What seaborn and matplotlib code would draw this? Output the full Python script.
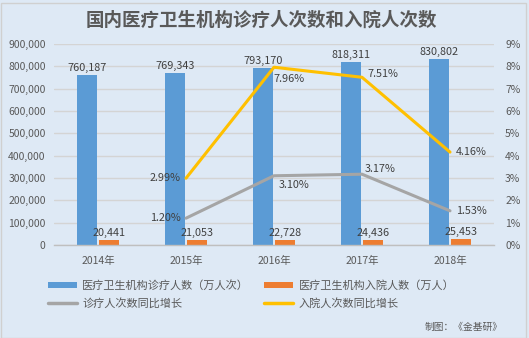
import numpy as np
import pandas as pd
import matplotlib
matplotlib.use("Agg")
import matplotlib.pyplot as plt
import seaborn as sns
from matplotlib.patches import Patch, Rectangle
from matplotlib.lines import Line2D
from matplotlib.ticker import FuncFormatter, MultipleLocator

years = ["2014年", "2015年", "2016年", "2017年", "2018年"]
visits = [760187, 769343, 793170, 818311, 830802]          # 万人次
admissions = [20441, 21053, 22728, 24436, 25453]           # 万人
visit_growth_years = ["2015年", "2016年", "2017年", "2018年"]
visit_growth = [1.20, 3.10, 3.17, 1.53]                   # %
admit_growth = [2.99, 7.96, 7.51, 4.16]                   # %

name_visits = "医疗卫生机构诊疗人数（万人次）"
name_admits = "医疗卫生机构入院人数（万人）"
name_vg = "诊疗人次数同比增长"
name_ag = "入院人次数同比增长"

BG = "#DEE9F5"
BLUE = "#5B9BD5"
ORANGE = "#ED7D31"
GRAY = "#A5A5A5"
YELLOW = "#FFC000"
TXT = "#595959"
LBL = "#404040"

sns.set_theme(style="white")
plt.rcParams["font.family"] = ["Noto Sans CJK SC", "DejaVu Sans"]

W, H = 529, 338
fig = plt.figure(figsize=(W / 100, H / 100), dpi=100, facecolor=BG)
fig.patches.append(Rectangle((0.5 / W, 0.5 / H), 1 - 3.5 / W, 1 - 3 / H,
                             transform=fig.transFigure, fill=False,
                             edgecolor="#D0D0D0", linewidth=1.0))

ax = fig.add_axes([54 / W, 1 - 245 / H, 440 / W, 201 / H])
ax.set_facecolor(BG)

bars = pd.DataFrame({
    "year": years * 2,
    "value": visits + admissions,
    "series": [name_visits] * 5 + [name_admits] * 5,
})
sns.barplot(data=bars, x="year", y="value", hue="series",
            palette=[BLUE, ORANGE], width=0.51, dodge=True,
            saturation=1, legend=False, ax=ax)

# narrow each bar to leave a small gap inside the pair
bar_w = 20 / 88
for p in ax.patches:
    cx = p.get_x() + p.get_width() / 2
    p.set_width(bar_w)
    p.set_x(cx - bar_w / 2)
    p.set_edgecolor("none")

ax.set_xlim(-0.5, 4.5)
ax.set_ylim(0, 900000)
ax.yaxis.set_major_locator(MultipleLocator(100000))
ax.yaxis.set_major_formatter(FuncFormatter(lambda v, _: f"{int(v):,}"))
ax.grid(axis="y", color="#D4D4D4", linewidth=1)
ax.set_axisbelow(True)
ax.set_xlabel("")
ax.set_ylabel("")
for s in ["top", "left", "right"]:
    ax.spines[s].set_visible(False)
ax.spines["bottom"].set_color("#BFBFBF")
ax.spines["bottom"].set_linewidth(1)
ax.tick_params(axis="y", length=0, labelsize=7.5, labelcolor=TXT, pad=6)
ax.tick_params(axis="x", length=0, labelsize=7.5, labelcolor=TXT, pad=8)
ax.set_xticks(range(5))
ax.set_xticklabels(years)
ax.set_xticks(np.arange(-0.5, 5.0, 1.0), minor=True)
ax.tick_params(axis="x", which="minor", length=5, color="#BFBFBF", width=1)

# value labels above the bars
for p, v in zip(ax.patches, visits + admissions):
    ax.annotate(f"{v:,}", (p.get_x() + p.get_width() / 2, p.get_height()),
                xytext=(0, 2), textcoords="offset pixels",
                ha="center", va="bottom", fontsize=7.8, color=LBL)

ax2 = ax.twinx()
ax2.set_position(ax.get_position())
pos = [years.index(y) for y in visit_growth_years]
lines = pd.DataFrame({
    "pos": pos * 2,
    "rate": visit_growth + admit_growth,
    "series": [name_vg] * 4 + [name_ag] * 4,
})
sns.lineplot(data=lines, x="pos", y="rate", hue="series",
             palette=[GRAY, YELLOW], linewidth=2.2, legend=False,
             ax=ax2)
ax2.set_ylim(0, 9)
ax2.set_xlim(-0.5, 4.5)
ax2.yaxis.set_major_locator(MultipleLocator(1))
ax2.yaxis.set_major_formatter(FuncFormatter(lambda v, _: f"{int(round(v))}%"))
ax2.tick_params(axis="y", length=0, labelsize=7.5, labelcolor=TXT, pad=8)
ax2.set_xlabel("")
ax2.set_ylabel("")
for s in ax2.spines.values():
    s.set_visible(False)
ax2.grid(False)

# growth-rate labels: (dx, dy, ha, va) in pixels
vg_offsets = [(-5, 0, "right", "center"), (5, -9, "left", "center"),
              (3, 5, "left", "center"), (6, 0, "left", "center")]
ag_offsets = [(-5, 0, "right", "center"), (-1, -12, "left", "center"),
              (5, 3, "left", "center"), (6, 0, "left", "center")]
for values, offs in ((visit_growth, vg_offsets), (admit_growth, ag_offsets)):
    for x, v, (dx, dy, ha, va) in zip(pos, values, offs):
        ax2.annotate(f"{v:.2f}%", (x, v), xytext=(dx, dy),
                     textcoords="offset pixels", ha=ha, va=va,
                     fontsize=7.8, color=LBL)

fig.text(0.495, 1 - 20 / H, "国内医疗卫生机构诊疗人次数和入院人次数",
         ha="center", va="center", fontsize=13.3, fontweight="bold",
         color=TXT)

handles = [
    Patch(facecolor=BLUE, edgecolor="none", label=name_visits),
    Line2D([], [], color=GRAY, linewidth=2.5, label=name_vg),
    Patch(facecolor=ORANGE, edgecolor="none", label=name_admits),
    Line2D([], [], color=YELLOW, linewidth=2.5, label=name_ag),
]
leg = fig.legend(handles=handles, ncol=2, loc="upper left",
                 bbox_to_anchor=(48 / W, 1 - 280 / H), frameon=False,
                 fontsize=8, handlelength=2.6, handleheight=0.55,
                 handletextpad=0.5, columnspacing=1.35, labelspacing=0.6,
                 borderaxespad=0, borderpad=0)
for t in leg.get_texts():
    t.set_color(TXT)

fig.text(1 - 26 / W, 1 - 327 / H, "制图：《金基研》", ha="right",
         va="center", fontsize=7, color=TXT)

fig.savefig("out.png", dpi=100, facecolor=BG)
